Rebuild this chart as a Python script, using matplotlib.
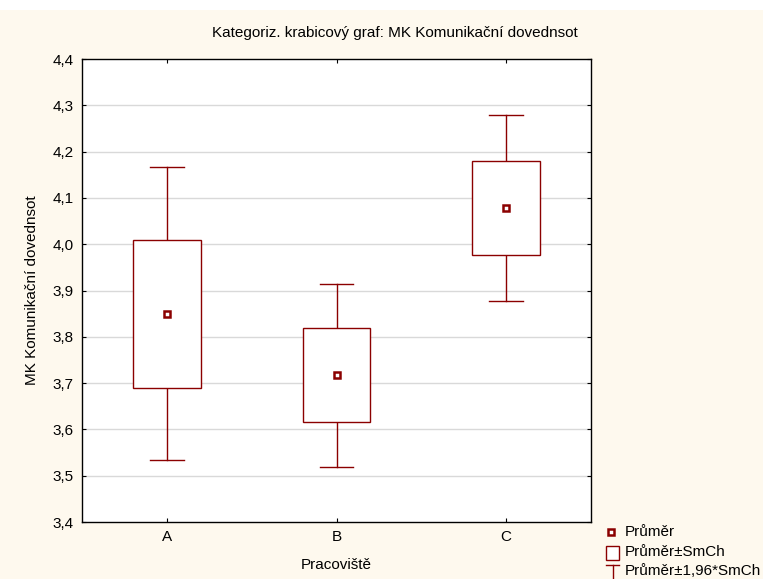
import matplotlib
matplotlib.use("Agg")
import matplotlib.pyplot as plt
from matplotlib.patches import Rectangle
from matplotlib.lines import Line2D

plt.rcParams['font.family'] = ['Liberation Sans', 'DejaVu Sans']

categories = ['A', 'B', 'C']
means = [3.850, 3.718, 4.079]
box_lo = [3.689, 3.616, 3.976]
box_hi = [4.010, 3.818, 4.180]
whisk_lo = [3.534, 3.518, 3.878]
whisk_hi = [4.166, 3.915, 4.278]
yticks = [3.4, 3.5, 3.6, 3.7, 3.8, 3.9, 4.0, 4.1, 4.2, 4.3, 4.4]

title = 'Kategoriz. krabicový graf: MK Komunikační dovednsot'
xlabel = 'Pracoviště'
ylabel = 'MK Komunikační dovednsot'
legend_labels = ['Průměr', 'Průměr±SmCh', 'Průměr±1,96*SmCh']

red = '#8B0000'
bg = '#FEF9EE'
fs = 11

W, H = 763, 579
fig = plt.figure(figsize=(W / 100, H / 100), dpi=100, facecolor=bg)
# white strip at top
fig.add_artist(Rectangle((0, 1 - 10 / H), 1, 10 / H, transform=fig.transFigure,
                         facecolor='white', edgecolor='none', zorder=0))

ax = fig.add_axes([82 / W, 1 - 522 / H, (591 - 82) / W, (522 - 59) / H])
ax.set_facecolor('white')
ax.set_xlim(-0.5, 2.5)
ax.set_ylim(3.4, 4.4)

for y in yticks[1:-1]:
    ax.axhline(y, color='#D9D9D9', lw=1, zorder=1)

bw = 0.4
cw = 0.2
for i in range(len(categories)):
    ax.plot([i, i], [whisk_lo[i], box_lo[i]], color=red, lw=1, zorder=2)
    ax.plot([i, i], [box_hi[i], whisk_hi[i]], color=red, lw=1, zorder=2)
    ax.plot([i - cw / 2, i + cw / 2], [whisk_lo[i]] * 2, color=red, lw=1, zorder=2)
    ax.plot([i - cw / 2, i + cw / 2], [whisk_hi[i]] * 2, color=red, lw=1, zorder=2)
    ax.add_patch(Rectangle((i - bw / 2, box_lo[i]), bw, box_hi[i] - box_lo[i],
                           facecolor='white', edgecolor=red, lw=1, zorder=3))
ax.plot(range(len(categories)), means, linestyle='none', marker='s', ms=5,
        mfc='white', mec=red, mew=1.8, zorder=4)

ax.set_xticks(range(len(categories)))
ax.set_xticklabels(categories)
ax.set_yticks(yticks)
ax.set_yticklabels([f'{v:.1f}'.replace('.', ',') for v in yticks])
ax.tick_params(direction='in', length=3, width=0.8, labelsize=fs, colors='black',
               top=True, right=True, pad=6)
ax.tick_params(axis='y', pad=6)
for s in ax.spines.values():
    s.set_color('black')
    s.set_linewidth(1)

ax.set_xlabel(xlabel, fontsize=fs, labelpad=10)
ax.set_ylabel(ylabel, fontsize=fs, labelpad=10)
fig.text(395 / W, 1 - 33 / H, title, ha='center', va='center', fontsize=fs)

# legend drawn manually (bottom right)
def fx(x):
    return x / W

def fy(y):
    return 1 - y / H

fig.add_artist(Line2D([fx(611)], [fy(532)], marker='s', ms=5, mfc='white', mec=red,
                      mew=1.8, linestyle='none', transform=fig.transFigure))
fig.add_artist(Rectangle((fx(606), fy(560)), (619 - 606) / W, (560 - 546) / H,
                         transform=fig.transFigure, facecolor='white', edgecolor=red, lw=1))
fig.add_artist(Line2D([fx(606), fx(619)], [fy(565), fy(565)], color=red, lw=1,
                      transform=fig.transFigure))
fig.add_artist(Line2D([fx(612.5), fx(612.5)], [fy(565), fy(580)], color=red, lw=1,
                      transform=fig.transFigure))
for lab, y in zip(legend_labels, [532, 552, 571]):
    fig.text(fx(625), fy(y), lab, ha='left', va='center', fontsize=fs)

fig.savefig('out.png', dpi=100, facecolor=bg)
